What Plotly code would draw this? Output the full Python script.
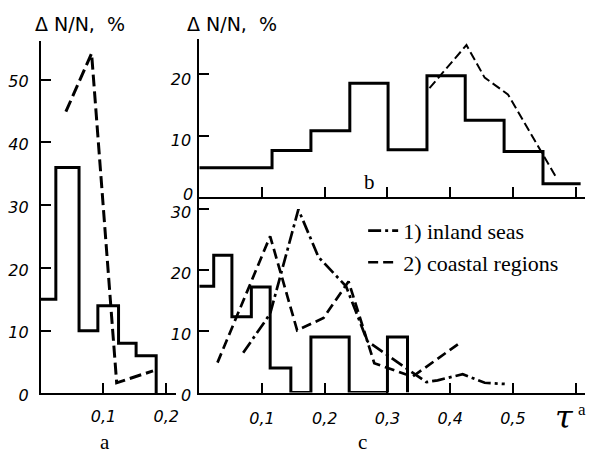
import plotly.graph_objects as go

W, H = 592, 457

# ---------------- data ----------------
# panel a
a_edges = [0, 0.024, 0.061, 0.091, 0.124, 0.152, 0.184]
a_hist = [15, 36, 10, 14, 8, 6]
a_dash_x = [0.040, 0.081, 0.121, 0.179]
a_dash_y = [44.9, 54.2, 1.7, 3.6]

# panel b
b_edges = [0, 0.116, 0.178, 0.240, 0.301, 0.363, 0.424, 0.486, 0.548, 0.608]
b_hist = [4.8, 7.6, 10.8, 18.5, 7.7, 19.7, 12.5, 7.4, 2.2]
b_dash_x = [0.367, 0.426, 0.455, 0.492, 0.568]
b_dash_y = [17.7, 24.7, 19.4, 16.7, 3.4]

# panel c
c_edges = [0, 0.023, 0.052, 0.083, 0.113, 0.146, 0.178, 0.239, 0.300, 0.332]
c_hist = [17.4, 22.5, 12.4, 17.3, 4.0, 0, 9.1, 0, 9.1]
inland_x = [0.070, 0.113, 0.158, 0.190, 0.234, 0.268, 0.362, 0.380, 0.420, 0.455, 0.487]
inland_y = [6.5, 12.9, 30.0, 22.2, 17.4, 8.4, 1.7, 2.0, 3.0, 1.6, 1.4]
coastal_x = [0.029, 0.113, 0.156, 0.198, 0.238, 0.279, 0.340, 0.415]
coastal_y = [4.9, 25.6, 10.2, 12.2, 18.2, 4.8, 2.6, 8.1]

a_xticks = [0.1, 0.2]
a_xlabels = ["0,1", "0,2"]
bc_xticks = [0.1, 0.2, 0.3, 0.4, 0.5, 0.6]
c_xlabels = ["0,1", "0,2", "0,3", "0,4", "0,5", ""]
a_yticks = [0, 10, 20, 30, 40, 50]
b_yticks = [10, 20]
b_zero_tick = [0]
c_yticks = [0, 10, 20, 30]
legend_names = ["1) inland seas", "2) coastal regions"]
ylabel = "Δ N/N,  %"


def px_x(p):
    return p / W


def px_y(p):
    return 1 - p / H


fig = go.Figure()
black = "black"

# panel a
fig.add_trace(go.Scatter(x=a_edges, y=a_hist + [0], mode="lines", line_shape="hv",
                         line=dict(color=black, width=3), showlegend=False,
                         xaxis="x", yaxis="y"))
fig.add_trace(go.Scatter(x=a_dash_x, y=a_dash_y, mode="lines",
                         line=dict(color=black, width=3, dash="12px,5px"), showlegend=False,
                         xaxis="x", yaxis="y"))
# panel b
fig.add_trace(go.Scatter(x=b_edges, y=b_hist + [b_hist[-1]], mode="lines", line_shape="hv",
                         line=dict(color=black, width=3), showlegend=False,
                         xaxis="x2", yaxis="y2"))
# drawn on an overlay axis identical to y2 (it carries the "0" label of panel b)
fig.add_trace(go.Scatter(x=b_dash_x, y=b_dash_y, mode="lines",
                         line=dict(color=black, width=2, dash="9px,4px"), showlegend=False,
                         xaxis="x2", yaxis="y4"))
# panel c
fig.add_trace(go.Scatter(x=c_edges, y=c_hist + [0], mode="lines", line_shape="hv",
                         line=dict(color=black, width=3), showlegend=False,
                         xaxis="x3", yaxis="y3"))
fig.add_trace(go.Scatter(x=inland_x, y=inland_y, mode="lines", name=legend_names[0],
                         line=dict(color=black, width=2.7, dash="13px,4px,3px,4px"),
                         xaxis="x3", yaxis="y3"))
fig.add_trace(go.Scatter(x=coastal_x, y=coastal_y, mode="lines", name=legend_names[1],
                         line=dict(color=black, width=2.7, dash="10px,5px"),
                         xaxis="x3", yaxis="y3"))

tickfont = dict(family="DejaVu Sans", size=16, color=black, style="italic")
common = dict(showline=True, linecolor=black, linewidth=2, ticks="inside", ticklen=10,
              tickwidth=2, tickcolor=black, showgrid=False, zeroline=False,
              tickfont=tickfont)

fig.update_layout(
    width=W, height=H,
    margin=dict(l=0, r=0, t=0, b=0),
    paper_bgcolor="white", plot_bgcolor="white",
    xaxis=dict(domain=[px_x(41), px_x(176.5)], range=[0, 0.215], anchor="y",
               tickvals=a_xticks, ticktext=a_xlabels, ticklabelstandoff=7, **common),
    yaxis=dict(domain=[px_y(405), px_y(42)], range=[0, 56.2], anchor="x",
               tickvals=a_yticks, ticklabelstandoff=7, ticklabelshift=2, **common),
    xaxis2=dict(domain=[px_x(200.3), px_x(588)], range=[0, 0.615], anchor="y2",
                tickvals=bc_xticks, showticklabels=False, **common),
    yaxis2=dict(domain=[px_y(203), px_y(40)], range=[0, 25.7], anchor="x2",
                tickvals=b_yticks, ticklabelstandoff=3, ticklabelshift=5, **common),
    yaxis4=dict(range=[0, 25.7], anchor="x2",
                overlaying="y2", side="left", showline=False, ticks="",
                showgrid=False, zeroline=False, tickfont=tickfont,
                tickvals=b_zero_tick, ticklabelstandoff=5, ticklabelshift=-3),
    xaxis3=dict(domain=[px_x(200.3), px_x(588)], range=[0, 0.615], anchor="y3",
                tickvals=bc_xticks, ticktext=c_xlabels, ticklabelstandoff=10, **common),
    yaxis3=dict(domain=[px_y(404), px_y(203)], range=[0, 32.0], anchor="x3",
                tickvals=c_yticks, ticklabelstandoff=3, ticklabelshift=3, **common),
    legend=dict(x=px_x(365), y=px_y(216), xanchor="left", yanchor="top",
                bgcolor="rgba(0,0,0,0)", borderwidth=0,
                font=dict(family="Liberation Serif", size=22, color=black)),
)

ann_font_serif = dict(family="Liberation Serif", size=21, color=black)
title_font = dict(family="DejaVu Sans", size=19, color=black)
annotations = [
    dict(text=ylabel, x=px_x(80), y=px_y(25), font=title_font),
    dict(text=ylabel, x=px_x(233), y=px_y(25), font=title_font),
    dict(text="a", x=px_x(106), y=px_y(455), font=ann_font_serif),
    dict(text="b", x=px_x(371), y=px_y(187), font=ann_font_serif),
    dict(text="c", x=px_x(364), y=px_y(455), font=ann_font_serif),
    dict(text="a", x=px_x(579), y=px_y(421), xanchor="left",
         font=dict(family="Liberation Serif", size=17, color=black)),
    dict(text="τ", x=px_x(567), y=px_y(429),
         font=dict(family="DejaVu Serif", size=32, color=black, style="italic")),
]
for a in annotations:
    a.setdefault("xanchor", "center")
    a.setdefault("yanchor", "middle")
    a.update(xref="paper", yref="paper", showarrow=False)
fig.update_layout(annotations=annotations)

fig.write_html("out.html", config={"displayModeBar": False},
               post_script="document.body.style.margin='0';document.body.style.overflow='hidden';")
